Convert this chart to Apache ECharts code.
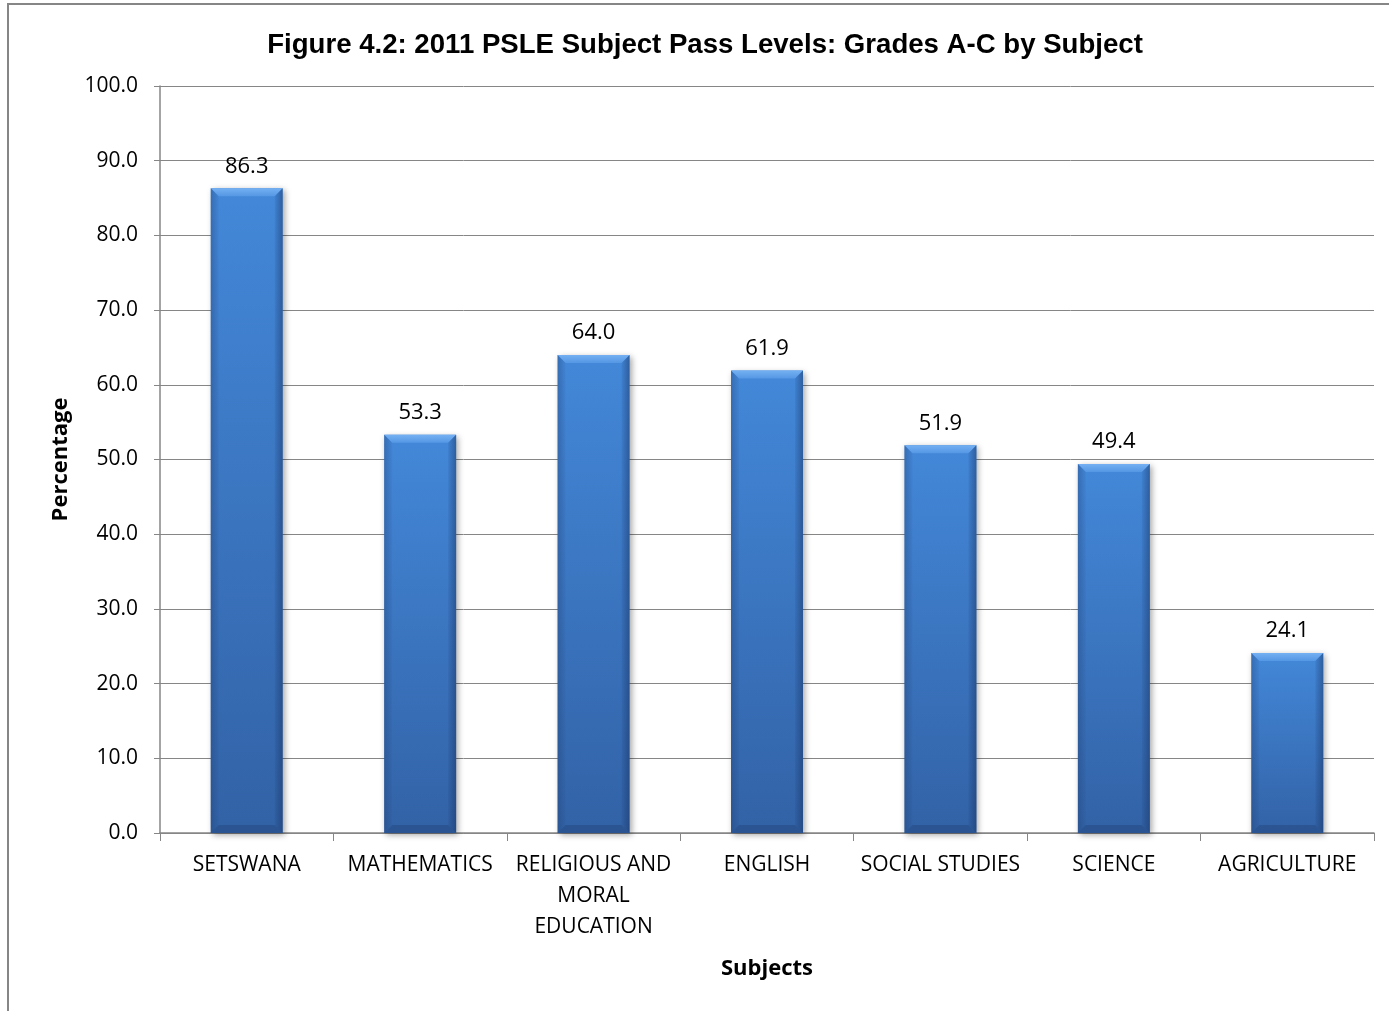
<!DOCTYPE html>
<html>
<head>
<meta charset="utf-8">
<script src="https://cdn.jsdelivr.net/npm/echarts@6/dist/echarts.min.js"></script>
<style>
html,body{margin:0;padding:0;background:#fff;}
#chart{width:1389px;height:1011px;}
</style>
</head>
<body>
<div id="chart"></div>
<script>
const titleText = 'Figure 4.2: 2011 PSLE Subject Pass Levels: Grades A-C by Subject';
const categories = ['SETSWANA', 'MATHEMATICS', 'RELIGIOUS AND\nMORAL\nEDUCATION', 'ENGLISH', 'SOCIAL STUDIES', 'SCIENCE', 'AGRICULTURE'];
const passRates = [86.3, 53.3, 64.0, 61.9, 51.9, 49.4, 24.1];
const yTicks = [0, 10, 20, 30, 40, 50, 60, 70, 80, 90, 100];

const FONT = '"Open Sans", "Noto Sans", sans-serif';
const chart = echarts.init(document.getElementById('chart'));

function renderBar(params, api) {
  const idx = api.value(0);
  const val = api.value(1);
  const top = api.coord([idx, val]);
  const base = api.coord([idx, 0]);
  const band = api.size([1, 0])[0];
  const w = band * 0.415;
  const x0 = top[0] - w / 2, x1 = top[0] + w / 2;
  const yT = top[1], yB = base[1];
  const b = 8;
  return {
    type: 'group',
    children: [
      { type: 'rect', shape: { x: x0, y: yT, width: w, height: yB - yT },
        style: { fill: new echarts.graphic.LinearGradient(0, 0, 0, 1, [
          { offset: 0, color: '#4388D9' }, { offset: 1, color: '#3262A6' }]),
          shadowBlur: 6, shadowColor: 'rgba(0,0,0,0.35)', shadowOffsetX: 2, shadowOffsetY: 2 } },
      { type: 'polygon', shape: { points: [[x0, yT], [x1, yT], [x1 - b, yT + b], [x0 + b, yT + b]] },
        style: { fill: new echarts.graphic.LinearGradient(0, 0, 0, 1, [
          { offset: 0, color: '#74B0F2' }, { offset: 1, color: '#5597E4' }]) } },
      { type: 'polygon', shape: { points: [[x0, yT], [x0 + b, yT + b], [x0 + b, yB - b], [x0, yB]] },
        style: { fill: new echarts.graphic.LinearGradient(0, 0, 1, 0, [
          { offset: 0, color: 'rgba(30,60,110,0.35)' }, { offset: 1, color: 'rgba(30,60,110,0.05)' }]) } },
      { type: 'polygon', shape: { points: [[x1, yT], [x1 - b, yT + b], [x1 - b, yB - b], [x1, yB]] },
        style: { fill: new echarts.graphic.LinearGradient(0, 0, 1, 0, [
          { offset: 0, color: 'rgba(20,45,90,0.08)' }, { offset: 1, color: 'rgba(20,45,90,0.45)' }]) } },
      { type: 'polygon', shape: { points: [[x0, yB], [x1, yB], [x1 - b, yB - b], [x0 + b, yB - b]] },
        style: { fill: 'rgba(30,60,110,0.35)' } },
      { type: 'text', style: { x: top[0], y: yT - 22, text: val.toFixed(1), align: 'center', verticalAlign: 'middle',
        fill: '#000', font: '22px ' + FONT } }
    ]
  };
}

chart.setOption({
  animation: false,
  backgroundColor: '#fff',
  title: {
    text: titleText, left: 700, top: 26, textAlign: 'center',
    textStyle: { fontFamily: '"Liberation Sans", Arial, sans-serif', fontWeight: 'bold', fontSize: 27.6, color: '#000' }
  },
  graphic: [
    { type: 'rect', shape: { x: 8, y: 4, width: 2000, height: 2000 }, style: { fill: 'none', stroke: '#868686', lineWidth: 2 }, z: 100 }
  ],
  grid: { left: 160, right: 15, top: 86, bottom: 178, containLabel: false },
  xAxis: {
    type: 'category', data: categories,
    name: 'Subjects', nameLocation: 'middle', nameGap: 125,
    nameTextStyle: { fontFamily: FONT, fontWeight: 'bold', fontSize: 22, color: '#000' },
    axisLine: { lineStyle: { color: '#868686', width: 1.5 } },
    axisTick: { show: true, length: 8, lineStyle: { color: '#868686' } },
    axisLabel: { interval: 0, margin: 17, fontFamily: FONT, fontSize: 21, color: '#000', lineHeight: 31, align: 'center' }
  },
  yAxis: {
    type: 'value', min: 0, max: 100, interval: 10,
    name: 'Percentage', nameLocation: 'middle', nameGap: 88,
    nameTextStyle: { fontFamily: FONT, fontWeight: 'bold', fontSize: 22, color: '#000' },
    axisLine: { show: true, lineStyle: { color: '#868686', width: 1.5 } },
    axisTick: { show: true, length: 6, lineStyle: { color: '#868686' } },
    splitLine: { lineStyle: { color: '#868686', width: 1 } },
    axisLabel: { margin: 22, fontFamily: FONT, fontSize: 21, color: '#000', formatter: v => v.toFixed(1) }
  },
  series: [{
    type: 'custom',
    renderItem: renderBar,
    data: passRates.map((v, i) => [i, v]),
    encode: { x: 0, y: 1 },
    clip: false
  }]
});
</script>
</body>
</html>
